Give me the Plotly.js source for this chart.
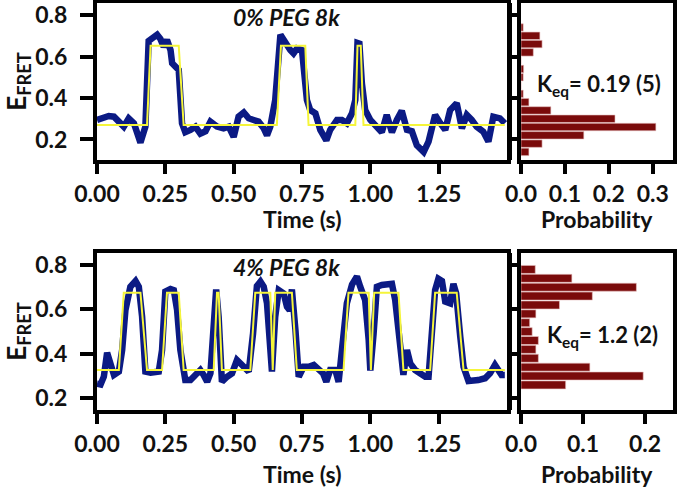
<!DOCTYPE html>
<html>
<head>
<meta charset="utf-8">
<script src="https://cdn.plot.ly/plotly-3.0.1.min.js"></script>
<style>html,body{margin:0;padding:0;background:#fff;}#chart{width:680px;height:494px;}</style>
</head>
<body>
<div id="chart"></div>
<script>
// ---- Top panel (0% PEG 8k) ----
const topTime = [0.000,0.019,0.043,0.062,0.080,0.098,0.116,0.135,0.159,0.177,0.189,0.208,0.220,0.232,0.244,0.256,0.269,0.275,0.287,0.299,0.311,0.323,0.342,0.360,0.378,0.397,0.415,0.439,0.463,0.482,0.500,0.518,0.537,0.555,0.573,0.591,0.610,0.622,0.634,0.652,0.671,0.689,0.707,0.719,0.732,0.750,0.768,0.780,0.799,0.817,0.839,0.853,0.878,0.896,0.914,0.933,0.945,0.953,0.960,0.969,0.981,1.000,1.018,1.042,1.060,1.079,1.097,1.115,1.134,1.152,1.170,1.195,1.213,1.237,1.256,1.274,1.292,1.316,1.335,1.353,1.371,1.389,1.413,1.432,1.450,1.474,1.492];
const topFret = [0.294,0.302,0.313,0.310,0.286,0.262,0.302,0.278,0.185,0.262,0.675,0.690,0.705,0.685,0.647,0.680,0.631,0.567,0.551,0.535,0.278,0.235,0.246,0.262,0.228,0.240,0.286,0.262,0.254,0.262,0.212,0.310,0.330,0.302,0.294,0.286,0.254,0.220,0.262,0.390,0.705,0.663,0.631,0.615,0.639,0.631,0.390,0.342,0.326,0.246,0.195,0.246,0.294,0.294,0.278,0.326,0.390,0.665,0.662,0.471,0.342,0.294,0.270,0.235,0.318,0.235,0.294,0.338,0.246,0.240,0.172,0.140,0.190,0.318,0.278,0.246,0.342,0.375,0.254,0.318,0.294,0.262,0.238,0.190,0.310,0.302,0.278];
const topFitTime = [0.000,0.183,0.196,0.299,0.317,0.658,0.673,0.762,0.774,0.945,0.953,0.965,0.975,1.492];
const topFitLevel = [0.27,0.27,0.652,0.652,0.27,0.27,0.652,0.652,0.27,0.27,0.652,0.652,0.27,0.27];
const topBins = [0.74,0.70,0.66,0.62,0.58,0.54,0.50,0.46,0.42,0.38,0.34,0.30,0.26,0.22,0.18,0.14];
const topProb = [0.005,0.043,0.048,0.028,0.000,0.006,0.005,0.000,0.005,0.018,0.068,0.214,0.307,0.143,0.048,0.018];

// ---- Bottom panel (4% PEG 8k) ----
const botTime = [0.000,0.013,0.025,0.037,0.049,0.062,0.080,0.092,0.104,0.122,0.141,0.153,0.165,0.177,0.196,0.214,0.226,0.238,0.250,0.269,0.281,0.293,0.305,0.323,0.342,0.360,0.378,0.390,0.403,0.415,0.427,0.436,0.445,0.457,0.476,0.494,0.512,0.524,0.537,0.555,0.571,0.585,0.598,0.610,0.622,0.632,0.640,0.652,0.665,0.683,0.695,0.705,0.713,0.726,0.738,0.756,0.774,0.793,0.811,0.827,0.839,0.853,0.872,0.884,0.896,0.914,0.933,0.951,0.963,0.981,0.994,1.000,1.012,1.024,1.042,1.067,1.079,1.091,1.109,1.121,1.134,1.146,1.164,1.182,1.201,1.213,1.225,1.237,1.249,1.262,1.274,1.292,1.304,1.314,1.329,1.341,1.359,1.377,1.395,1.420,1.438,1.456,1.468,1.480,1.492];
const botFret = [0.265,0.262,0.297,0.405,0.357,0.305,0.320,0.417,0.597,0.702,0.728,0.702,0.567,0.320,0.315,0.315,0.320,0.417,0.680,0.692,0.687,0.597,0.417,0.282,0.282,0.305,0.327,0.305,0.274,0.312,0.492,0.690,0.567,0.274,0.297,0.312,0.372,0.357,0.342,0.320,0.492,0.705,0.725,0.702,0.627,0.417,0.320,0.567,0.687,0.672,0.612,0.597,0.690,0.507,0.297,0.342,0.342,0.350,0.327,0.312,0.274,0.327,0.327,0.274,0.417,0.627,0.712,0.748,0.702,0.642,0.462,0.325,0.492,0.702,0.710,0.710,0.715,0.642,0.462,0.305,0.417,0.357,0.327,0.312,0.297,0.297,0.492,0.687,0.738,0.728,0.635,0.627,0.715,0.672,0.477,0.342,0.278,0.278,0.282,0.290,0.312,0.350,0.327,0.305,0.305];
const botFitTime = [0.000,0.080,0.098,0.159,0.183,0.238,0.256,0.299,0.317,0.427,0.439,0.445,0.457,0.561,0.579,0.634,0.643,0.652,0.713,0.731,0.902,0.920,0.994,1.002,1.014,1.103,1.121,1.219,1.237,1.316,1.341,1.492];
const botFitLevel = [0.327,0.327,0.675,0.675,0.327,0.327,0.675,0.675,0.327,0.327,0.675,0.675,0.327,0.327,0.675,0.675,0.327,0.675,0.675,0.327,0.327,0.675,0.675,0.327,0.675,0.675,0.327,0.327,0.675,0.675,0.327,0.327];
const botBins = [0.78,0.74,0.70,0.66,0.62,0.58,0.54,0.50,0.46,0.42,0.38,0.34,0.30,0.26];
const botProb = [0.023,0.082,0.186,0.115,0.062,0.024,0.014,0.018,0.028,0.024,0.028,0.111,0.197,0.072];

const timeTicks = [0, 0.25, 0.5, 0.75, 1.0, 1.25];
const timeTickText = ['0.00','0.25','0.50','0.75','1.00','1.25'];
const fretTicks = [0.2, 0.4, 0.6, 0.8];
const fretTickText = ['0.2','0.4','0.6','0.8'];
const probTicksTop = [0, 0.1, 0.2, 0.3];
const probTickTextTop = ['0.0','0.1','0.2','0.3'];
const probTicksBot = [0, 0.1, 0.2];
const probTickTextBot = ['0.0','0.1','0.2'];

const NAVY = '#0b1a84', YEL = '#f5f53a', BAR = '#7a0b0b';
const FONT = 'Lato, "Open Sans", sans-serif';

const traces = [
  {x: topTime, y: topFret, xaxis:'x', yaxis:'y', mode:'lines', line:{color:NAVY, width:6.5}, hoverinfo:'none'},
  {x: topFitTime, y: topFitLevel, xaxis:'x', yaxis:'y', mode:'lines', line:{color:YEL, width:2}, hoverinfo:'none'},
  {x: topProb, y: topBins, xaxis:'x2', yaxis:'y2', type:'bar', orientation:'h', width:0.036,
   marker:{color:BAR, line:{color:'#e9c4c4', width:0.6}}, hoverinfo:'none'},
  {x: botTime, y: botFret, xaxis:'x3', yaxis:'y3', mode:'lines', line:{color:NAVY, width:6.5}, hoverinfo:'none'},
  {x: botFitTime, y: botFitLevel, xaxis:'x3', yaxis:'y3', mode:'lines', line:{color:YEL, width:2}, hoverinfo:'none'},
  {x: botProb, y: botBins, xaxis:'x4', yaxis:'y4', type:'bar', orientation:'h', width:0.036,
   marker:{color:BAR, line:{color:'#e9c4c4', width:0.6}}, hoverinfo:'none'}
];

const tickFont = {family: FONT, size: 23, color: '#111', weight: 'bold'};
const yTitleFont = {family: FONT, size: 26, color: '#111', weight: 'bold'};

function frame(extra) {
  return Object.assign({
    showline: true, linecolor: '#000', linewidth: 4, mirror: true,
    ticks: 'outside', ticklen: 10, tickwidth: 4, tickcolor: '#000',
    showgrid: false, zeroline: false, tickfont: tickFont, fixedrange: true
  }, extra);
}

const dTraceX = [97/680, 507/680];
const dHistX = [521/680, 673/680];
const dTop = [1 - 160/494, 1 - 3/494];
const dBot = [1 - 410/494, 1 - 253/494];

function label(x, y, text, size) {
  return {xref: 'paper', yref: 'paper', x: x/680, y: 1 - y/494, text: text, showarrow: false, borderpad: 0,
    font: {family: FONT, size: size, color: '#111'}, xanchor: 'center', yanchor: 'middle'};
}

const layout = {
  width: 680, height: 494,
  margin: {l: 0, r: 0, t: 0, b: 0},
  paper_bgcolor: '#fff', plot_bgcolor: '#fff',
  showlegend: false,
  xaxis: frame({domain: dTraceX, anchor: 'y', range: [0, 1.5], tickvals: timeTicks, ticktext: timeTickText}),
  yaxis: frame({domain: dTop, anchor: 'x', range: [0.101, 0.858], tickvals: fretTicks, ticktext: fretTickText,
    ticklen: 13, ticklabelstandoff: 8, title: {text: 'E<sub>FRET</sub>', font: yTitleFont, standoff: 4}}),
  xaxis2: frame({domain: dHistX, anchor: 'y2', range: [0, 0.346], tickvals: probTicksTop, ticktext: probTickTextTop}),
  yaxis2: frame({domain: dTop, anchor: 'x2', range: [0.101, 0.858], tickvals: fretTicks, showticklabels: false}),
  xaxis3: frame({domain: dTraceX, anchor: 'y3', range: [0, 1.5], tickvals: timeTicks, ticktext: timeTickText}),
  yaxis3: frame({domain: dBot, anchor: 'x3', range: [0.147, 0.854], tickvals: fretTicks, ticktext: fretTickText,
    ticklen: 13, ticklabelstandoff: 8, title: {text: 'E<sub>FRET</sub>', font: yTitleFont, standoff: 4}}),
  xaxis4: frame({domain: dHistX, anchor: 'y4', range: [0, 0.245], tickvals: probTicksBot, ticktext: probTickTextBot}),
  yaxis4: frame({domain: dBot, anchor: 'x4', range: [0.147, 0.854], tickvals: fretTicks, showticklabels: false}),
  bargap: 0,
  shapes: [
    {type: 'line', xref: 'paper', yref: 'paper', x0: 510/680, x1: 510/680, y0: dTop[0], y1: dTop[1], line: {color: '#000', width: 4}},
    {type: 'line', xref: 'paper', yref: 'paper', x0: 510/680, x1: 510/680, y0: dBot[0], y1: dBot[1], line: {color: '#000', width: 4}}
  ],
  annotations: [
    label(286, 17, '<b><i>0% PEG 8k</i></b>', 23),
    label(286, 267, '<b><i>4% PEG 8k</i></b>', 23),
    label(599, 85, '<b>K<sub>eq</sub>= 0.19 (5)</b>', 22),
    label(602, 336, '<b>K<sub>eq</sub>= 1.2 (2)</b>', 22),
    label(302, 219, '<b>Time (s)</b>', 23),
    label(597, 219, '<b>Probability</b>', 23),
    label(302, 474, '<b>Time (s)</b>', 23),
    label(597, 474, '<b>Probability</b>', 23)
  ]
};

Plotly.newPlot('chart', traces, layout, {displayModeBar: false, staticPlot: true});
</script>
</body>
</html>
